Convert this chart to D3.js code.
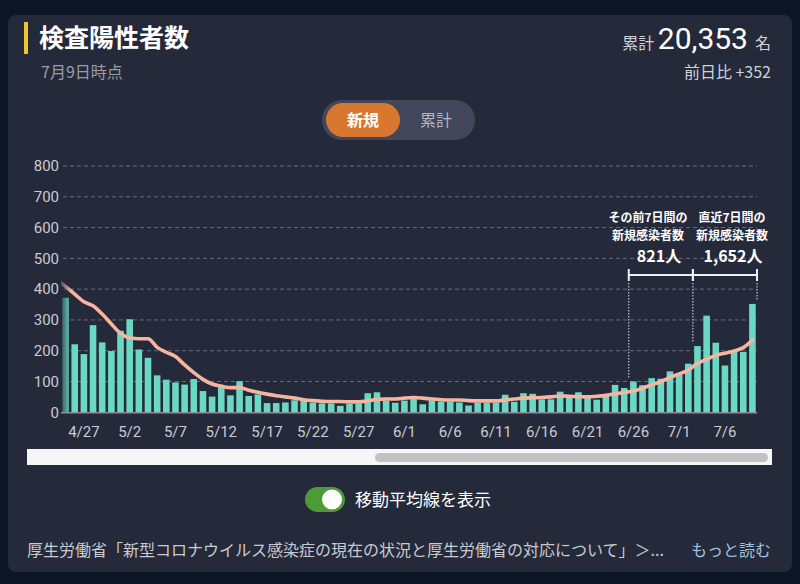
<!DOCTYPE html>
<html><head><meta charset="utf-8">
<script src="https://cdn.jsdelivr.net/npm/d3@7/dist/d3.min.js"></script>
<style>
html,body{margin:0;padding:0;background:#0d1626;}
svg{display:block;font-family:"Noto Sans CJK JP","Noto Sans",sans-serif;}
</style></head>
<body><svg id="c" width="800" height="584"></svg>
<script>
// ---- data ----
const dates = ["4/25","4/26","4/27","4/28","4/29","4/30",
"5/1","5/2","5/3","5/4","5/5","5/6","5/7","5/8","5/9","5/10","5/11","5/12","5/13","5/14","5/15","5/16","5/17","5/18","5/19","5/20","5/21","5/22","5/23","5/24","5/25","5/26","5/27","5/28","5/29","5/30","5/31",
"6/1","6/2","6/3","6/4","6/5","6/6","6/7","6/8","6/9","6/10","6/11","6/12","6/13","6/14","6/15","6/16","6/17","6/18","6/19","6/20","6/21","6/22","6/23","6/24","6/25","6/26","6/27","6/28","6/29","6/30",
"7/1","7/2","7/3","7/4","7/5","7/6","7/7","7/8","7/9"];
const newCases = [372,221,189,283,227,199,
265,302,204,177,120,106,97,90,108,69,51,82,55,101,53,58,30,30,32,39,37,31,29,29,21,27,29,62,65,38,31,
38,43,26,39,35,35,32,22,31,31,31,57,34,62,60,42,42,67,48,65,48,41,57,89,79,100,88,111,109,133,
122,158,215,314,226,152,197,196,352];
const movingAvg = [408,384,359,346,319,287,
256,242,239,239,211,195,181,154,129,107,92,85,80,80,72,65,59,54,50,46,41,38,36,35,35,34,34,37,42,43,43,
46,48,46,43,41,40,40,38,37,37,37,40,43,46,47,48,50,53,52,51,50,52,55,60,64,69,78,89,100,113,
125,137,159,172,185,192,199,210,235];
const movingAvgPrev = 432; // 4/24 (left of visible window)
const yTicks = [0,100,200,300,400,500,600,700,800];
const xTickLabels = ["4/27","5/2","5/7","5/12","5/17","5/22","5/27","6/1","6/6","6/11","6/16","6/21","6/26","7/1","7/6"];
const prevWeek = {from:"6/26", to:"7/2", label1:"その前7日間の", label2:"新規感染者数", value:"821人"};
const lastWeek = {from:"7/3", to:"7/9", label1:"直近7日間の", label2:"新規感染者数", value:"1,652人"};

// ---- drawing ----
const svg = d3.select("#c");
svg.append("rect").attr("width",800).attr("height",584).attr("fill","#0d1626");
svg.append("rect").attr("x",8).attr("y",15).attr("width",784).attr("height",557).attr("rx",8).attr("fill","#252a3b");

// header
svg.append("rect").attr("x",24).attr("y",22).attr("width",4).attr("height",32).attr("fill","#f2c230");
svg.append("text").attr("x",39).attr("y",47).attr("fill","#fff").attr("font-size",25).attr("font-weight",700).text("検査陽性者数");
svg.append("text").attr("x",41).attr("y",78).attr("fill","#9a9ca6").attr("font-size",16).text("7月9日時点");
const tot = svg.append("text").attr("x",771).attr("y",49).attr("text-anchor","end").attr("fill","#fff");
tot.append("tspan").attr("font-size",16).attr("fill","#d0d2d8").text("累計 ");
tot.append("tspan").attr("font-size",30).attr("font-family","Roboto, 'Noto Sans', sans-serif").text("20,353");
tot.append("tspan").attr("font-size",16).attr("fill","#d0d2d8").attr("dx",7).text("名");
svg.append("text").attr("x",771).attr("y",78).attr("text-anchor","end").attr("fill","#d0d2d8").attr("font-size",16).text("前日比 +352");

// segmented toggle
svg.append("rect").attr("x",322).attr("y",100).attr("width",153).attr("height",40).attr("rx",20).attr("fill","#41465a");
svg.append("rect").attr("x",326).attr("y",103).attr("width",74).attr("height",34).attr("rx",17).attr("fill","#d8782f");
svg.append("text").attr("x",363).attr("y",126).attr("text-anchor","middle").attr("fill","#fff").attr("font-size",16).attr("font-weight",700).text("新規");
svg.append("text").attr("x",436).attr("y",126).attr("text-anchor","middle").attr("fill","#b5b7c0").attr("font-size",16).text("累計");

// scales
const x = d3.scaleBand().domain(dates).range([61,757]).paddingInner(0.28).paddingOuter(0.14);
const y = d3.scaleLinear().domain([0,800]).range([412.3,166]);
const cx = d => x(d) + x.bandwidth()/2;

// grid + y axis
const g = svg.append("g");
g.selectAll("line.grid").data(yTicks.filter(t=>t>0)).join("line")
  .attr("x1",63).attr("x2",757).attr("y1",d=>y(d)).attr("y2",d=>y(d))
  .attr("stroke","#676b7b").attr("stroke-width",1).attr("stroke-dasharray","4,3");
const yAxis = d3.axisLeft(y).tickValues(yTicks).tickSize(0).tickPadding(0);
const ya = svg.append("g").attr("transform","translate(59,0)").call(yAxis);
ya.select(".domain").remove();
ya.selectAll("text").attr("fill","#c9cbd2").attr("font-size",15).attr("font-family","Roboto, 'Noto Sans', sans-serif");

// clip
svg.append("clipPath").attr("id","plot").append("rect").attr("x",61).attr("y",150).attr("width",700).attr("height",265);

// bars
const plot = svg.append("g").attr("clip-path","url(#plot)");
plot.selectAll("rect.bar").data(dates).join("rect")
  .attr("x",d=>x(d)).attr("width",x.bandwidth())
  .attr("y",(d,i)=>y(newCases[i])).attr("height",(d,i)=>y(0)-y(newCases[i]))
  .attr("fill","#6bd8c3");

// moving average
const step = x.step();
const maPts = [[cx(dates[0])-step, movingAvgPrev]].concat(dates.map((d,i)=>[cx(d), movingAvg[i]]));
plot.append("path").datum(maPts)
  .attr("d", d3.line().x(p=>p[0]).y(p=>y(p[1])).curve(d3.curveMonotoneX))
  .attr("fill","none").attr("stroke","#f7b4a0").attr("stroke-width",3.6).attr("stroke-linecap","round").attr("stroke-linejoin","round");

// left fade (scroll shadow)
const defs = svg.append("defs");
const lg = defs.append("linearGradient").attr("id","fade").attr("x1",0).attr("x2",1);
lg.append("stop").attr("offset",0).attr("stop-color","#252a3b").attr("stop-opacity",0.75);
lg.append("stop").attr("offset",1).attr("stop-color","#252a3b").attr("stop-opacity",0);
svg.append("rect").attr("x",61).attr("y",270).attr("width",10).attr("height",142).attr("fill","url(#fade)");

// baseline
svg.append("line").attr("x1",61).attr("x2",757).attr("y1",y(0)+0.5).attr("y2",y(0)+0.5).attr("stroke","#8b8e9b").attr("stroke-width",1.5);

// x axis labels
const xa = svg.append("g").attr("transform",`translate(0,${y(0)})`)
  .call(d3.axisBottom(x).tickValues(xTickLabels).tickSize(0).tickPadding(14));
xa.select(".domain").remove();
xa.selectAll("text").attr("fill","#c9cbd2").attr("font-size",15).attr("font-family","Roboto, 'Noto Sans', sans-serif");

// annotations
const bracketY = 275;
function annot(w, textX){
  const i0 = dates.indexOf(w.from), i1 = dates.indexOf(w.to);
  const x0 = x(w.from) - x.step()*x.paddingInner()/2;
  const x1 = x(w.to) + x.bandwidth() + x.step()*x.paddingInner()/2;
  const a = svg.append("g");
  a.append("line").attr("x1",x0).attr("x2",x1).attr("y1",bracketY).attr("y2",bracketY).attr("stroke","#eef0f2").attr("stroke-width",2);
  [x0,x1].forEach(xx=>a.append("line").attr("x1",xx).attr("x2",xx).attr("y1",bracketY-6).attr("y2",bracketY+6).attr("stroke","#eef0f2").attr("stroke-width",2));
  a.append("text").attr("x",textX.l).attr("y",222).attr("text-anchor","middle").attr("fill","#fff").attr("font-size",12).attr("font-weight",700).text(w.label1);
  a.append("text").attr("x",textX.l).attr("y",239.5).attr("text-anchor","middle").attr("fill","#fff").attr("font-size",12).attr("font-weight",700).text(w.label2);
  a.append("text").attr("x",textX.v).attr("y",262).attr("text-anchor","middle").attr("fill","#fff").attr("font-size",16).attr("font-weight",700).text(w.value);
  return {x0,x1,i0,i1};
}
const p1 = annot(prevWeek, {l:648, v:659});
const p2 = annot(lastWeek, {l:732, v:733});
// dotted guides
function guide(xx, vals){
  const top = y(d3.max(vals)) - 4;
  svg.append("line").attr("x1",xx).attr("x2",xx).attr("y1",bracketY+8).attr("y2",top)
    .attr("stroke","#e2e3e8").attr("stroke-width",1).attr("stroke-dasharray","1.5,1.5");
}
guide(p1.x0, [newCases[p1.i0-1], newCases[p1.i0]]);
guide((p1.x1+p2.x0)/2, [newCases[p1.i1], newCases[p2.i0]]);
guide(p2.x1, [newCases[p2.i1]]);

// scrollbar
svg.append("rect").attr("x",27).attr("y",449).attr("width",745).attr("height",16).attr("fill","#f6f6f6");
svg.append("rect").attr("x",375).attr("y",453).attr("width",393).attr("height",9).attr("rx",4.5).attr("fill","#c2c2c2");

// MA toggle
svg.append("rect").attr("x",305).attr("y",487).attr("width",40).attr("height",25).attr("rx",12.5).attr("fill","#4d9a36");
svg.append("circle").attr("cx",332).attr("cy",499.5).attr("r",10).attr("fill","#fff");
svg.append("text").attr("x",355).attr("y",506).attr("fill","#fff").attr("font-size",17).text("移動平均線を表示");

// footer
svg.append("text").attr("x",27).attr("y",556).attr("fill","#c9cbd2").attr("font-size",16).text("厚生労働省「新型コロナウイルス感染症の現在の状況と厚生労働省の対応について」＞...");
svg.append("text").attr("x",771).attr("y",556).attr("text-anchor","end").attr("fill","#9ec4e2").attr("font-size",16).text("もっと読む");
</script></body></html>
